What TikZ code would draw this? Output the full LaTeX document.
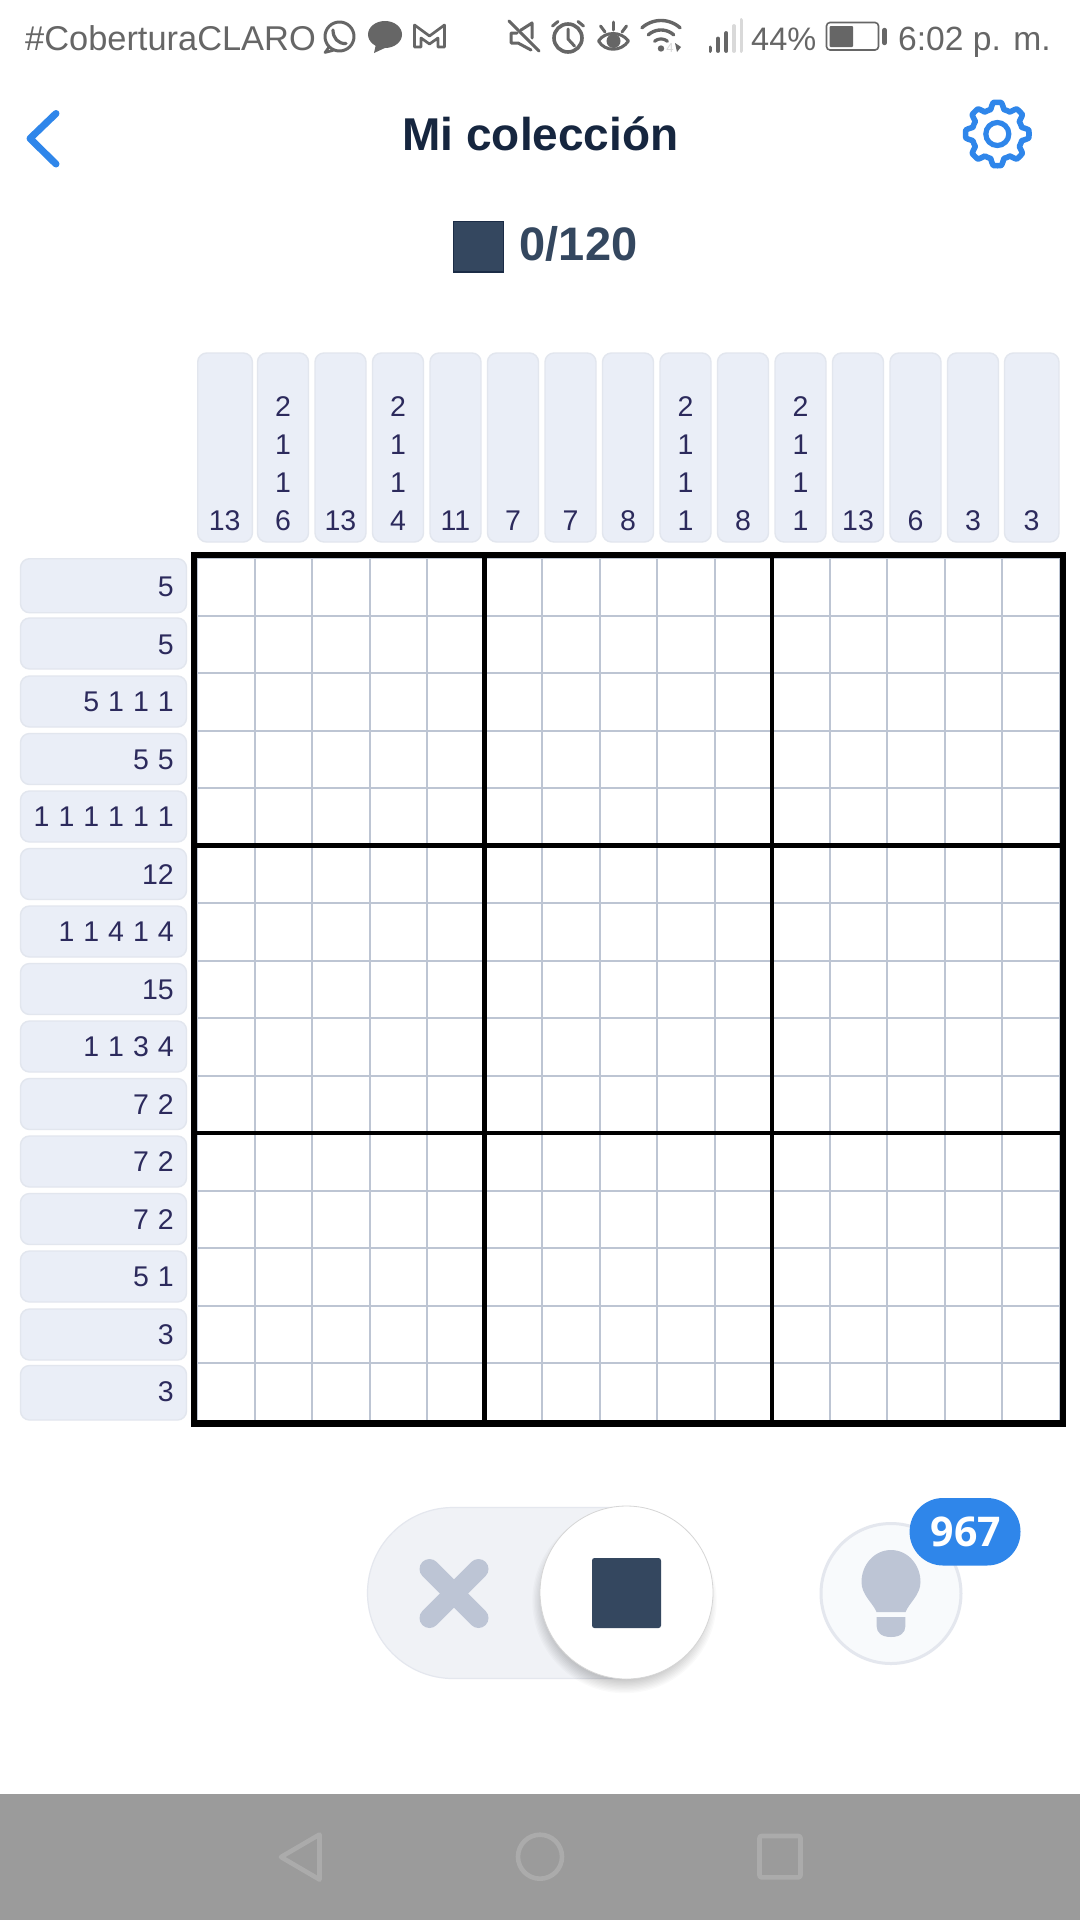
\documentclass[tikz,border=0pt]{standalone}
\usepackage{fontspec}
\setmainfont{Liberation Sans}
\newfontfamily\badgefont{Open Sans}
\newcommand{\fz}[1]{\fontsize{#1}{#1}\selectfont}
\newcommand{\cluefont}{\fz{28.5}\spaceskip=9pt\relax}
\definecolor{cluefill}{HTML}{EAEEF7}
\definecolor{clueedge}{HTML}{E2E6EE}
\definecolor{cluetext}{HTML}{2C2A5C}
\definecolor{gridline}{HTML}{BDC5D3}
\definecolor{navy}{HTML}{34475F}
\definecolor{navyedge}{HTML}{1B2C46}
\definecolor{titletext}{HTML}{16263F}
\definecolor{blueicon}{HTML}{2F86EA}
\definecolor{statusgrey}{HTML}{666666}
\definecolor{lightbar}{HTML}{D9D9D9}
\definecolor{pillfill}{HTML}{F0F2F6}
\definecolor{pilledge}{HTML}{E4E7EE}
\definecolor{iconblue}{HTML}{BDC5D5}
\definecolor{hintfill}{HTML}{F8FAFC}
\definecolor{navbar}{HTML}{9B9B9B}
\definecolor{navicon}{HTML}{ABABAB}
\tikzset{
  cluebox/.style={fill=cluefill,draw=clueedge,line width=1.4pt,rounded corners=9pt},
  cluetxt/.style={inner sep=0pt,text=cluetext,font=\cluefont},
  thingrid/.style={draw=gridline,line width=2pt},
  thickgrid/.style={draw=black,line width=4.4pt},
  statustxt/.style={inner sep=0pt,text=statusgrey,anchor=base west},
  sicon/.style={draw=statusgrey,line width=3pt,line cap=round,line join=round},
  navstroke/.style={draw=navicon,line width=4.6pt,line join=round}
}
\begin{document}
\begin{tikzpicture}[x=1pt,y=-1pt]
\useasboundingbox (0,0) rectangle (1080,1920);
\fill[white] (0,0) rectangle (1080,1920);

% status bar
\node[statustxt,font=\fz{34.4}] (carrier) at (25,50) {\#CoberturaCLARO};
\draw[sicon] (339.5,36.5) circle (14.5);
\draw[sicon,line width=2.6pt] (329,47) -- (325,52.5) -- (333,50.5);
\draw[sicon,line width=3.2pt] (333,30) .. controls (333,38) and (338,44) .. (346,43.5);
\fill[statusgrey] (385,34.5) ellipse (17 and 13.5);
\fill[statusgrey] (376,44) -- (374,53) -- (387,47) -- cycle;
\draw[sicon,line width=2.7pt] (414.5,47) -- (414.5,25) -- (429.5,36) -- (444.5,25) -- (444.5,47) -- (438,47) -- (438,38) -- (429.5,44) -- (421,38) -- (421,47) -- cycle;
\draw[sicon] (509,21) -- (539,51);
\draw[sicon] (517,33) -- (511,33) -- (511,43) -- (518,43) -- (531,50);
\draw[sicon] (521,30) -- (532,23) -- (532,38);
\draw[sicon,line width=3.6pt] (568,38) circle (14);
\draw[sicon] (568,29) -- (568,39) -- (574.5,46);
\draw[sicon] (552.5,26) -- (558,21.5);
\draw[sicon] (578,21.5) -- (583.5,26);
\draw[sicon] (598.5,41) .. controls (605,31) and (621,31) .. (628.5,41) .. controls (621,52) and (605,52) .. (598.5,41) -- cycle;
\fill[statusgrey] (613.5,41) circle (7);
\draw[sicon] (613.5,22) -- (613.5,30);
\draw[sicon] (600.5,26) -- (605,32);
\draw[sicon] (626.5,26) -- (622,32);
\draw[sicon,line width=3.4pt] plot[domain=48:132,samples=24] ({661+28.5*cos(\x)},{49-28.5*sin(\x)});
\draw[sicon,line width=3.4pt] plot[domain=48:132,samples=16] ({661+19*cos(\x)},{49-19*sin(\x)});
\draw[sicon,line width=3.2pt] plot[domain=50:130,samples=12] ({661+10*cos(\x)},{49-10*sin(\x)});
\fill[statusgrey] (661,48.5) circle (3.2);
\node[inner sep=0pt,anchor=base,text=lightbar,font=\fz{13}] (wifi4g) at (670,52) {4};
\fill[statusgrey] (675,43) -- (681,47) -- (677,52) -- cycle;
\foreach \bx/\bt/\bc in {710.4/47.5/statusgrey,718/38.5/statusgrey,726.3/33/statusgrey,734/26/lightbar,741.4/20/lightbar}
  \draw[\bc,line width=3.8pt,line cap=round] (\bx,\bt) -- (\bx,51);
\node[statustxt,font=\fz{32.5}] (battpct) at (751,50) {44\%};
\draw[statusgrey,line width=1.6pt,rounded corners=3.5pt] (826.5,22.5) rectangle (878.5,50);
\fill[statusgrey,rounded corners=1pt] (829.5,26) rectangle (853,47);
\draw[statusgrey,line width=4.4pt,line cap=round] (884.5,30) -- (884.5,43);
\node[statustxt,font=\fz{33.6}] (clock) at (898,50) {6:02 p. m.};

% header
\draw[blueicon,line width=7pt,line cap=round,line join=round] (56,113.5) -- (30,138.5) -- (56,164);
\node[inner sep=0pt,anchor=base,text=titletext,font=\bfseries\fz{46}] (title) at (540.5,150.5) {Mi colección};
\draw[blueicon,line width=5.6pt,line join=round] plot[domain=0:359,samples=240,smooth cycle] ({997.3+(28.5+3.2*max(-1,min(1,1.9*cos(8*\x))))*cos(\x)},{134-(28.5+3.2*max(-1,min(1,1.9*cos(8*\x))))*sin(\x)});
\draw[blueicon,line width=5.2pt] (997.3,134) circle (11.5);
\fill[navy,draw=navyedge,line width=1.2pt] (453.5,221.5) rectangle (503.5,272);
\node[inner sep=0pt,anchor=base west,text=navy,font=\bfseries\fz{47}] (score) at (519.5,260) {0/120};

% column clues
\draw[cluebox] (197.7,353) rectangle (252.4,542);
\foreach \i in {1,...,13}
  \draw[cluebox] (200+57.5*\i,353) rectangle (251+57.5*\i,542);
\draw[cluebox] (1004.5,353) rectangle (1059,542);
\foreach \col [count=\i from 0] in {{13},{6,1,1,2},{13},{4,1,1,2},{11},{7},{7},{8},{1,1,1,2},{8},{1,1,1,2},{13},{6},{3},{3}}
  \foreach \d [count=\r from 0] in \col
    \node[cluetxt,anchor=base] (c\i r\r) at ({225.5+57.5*\i+(\i==14)*1-(\i==0)*0.8},{530-38*\r}) {\d};

% row clues
\foreach \j/\a/\b in {0/558.7/612.7,1/618/669,2/676/727,3/733.5/784.5,4/791/842,5/848.5/899.5,6/906/957,7/963.5/1014.5,8/1021/1072,9/1078.5/1129.5,10/1136/1187,11/1193.5/1244.5,12/1251/1302,13/1309/1360,14/1365.5/1420}
  \draw[cluebox] (20.5,\a) rectangle (186.5,\b);
\foreach \t [count=\j from 0] in {5,5,5 1 1 1,5 5,1 1 1 1 1 1,12,1 1 4 1 4,15,1 1 3 4,7 2,7 2,7 2,5 1,3,3}
  \node[cluetxt,anchor=base east] (row\j) at (174,{596.5+57.5*\j}) {\t};

% grid
\fill[white] (197,558) rectangle (1059.5,1420.5);
\foreach \i in {1,2,3,4,6,7,8,9,11,12,13,14} {
  \draw[thingrid] (197+57.5*\i,558) -- (197+57.5*\i,1420.5);
  \draw[thingrid] (197,558+57.5*\i) -- (1059.5,558+57.5*\i);
}
\draw[gridline,line width=1pt] (197,558) rectangle (1059.5,1420.5);
\foreach \i in {5,10} {
  \draw[thickgrid] (197+57.5*\i,558) -- (197+57.5*\i,1420.5);
  \draw[thickgrid] (197,558+57.5*\i) -- (1059.5,558+57.5*\i);
}
\draw[black,line width=6.4pt] (194,555) rectangle (1062.8,1423.3);

% toggle
\fill[pillfill,draw=pilledge,line width=1.2pt,rounded corners=85.5pt] (367.5,1507.5) rectangle (712,1678.5);
\draw[iconblue,line width=20pt,line cap=round] (429.5,1569) -- (478.5,1618);
\draw[iconblue,line width=20pt,line cap=round] (478.5,1569) -- (429.5,1618);
\foreach \k in {1,...,12}
  \fill[black,opacity=0.02] (624.5,1601) circle ({76+\k*1.35});
\fill[white,draw=black!16,line width=0.8pt] (626.5,1592.5) circle (86.5);
\fill[navy,rounded corners=2.5pt] (592,1558) rectangle (661,1628);

% hint
\fill[hintfill,draw=pilledge,line width=3pt] (891,1593.5) circle (70);
\fill[iconblue] (891,1550) .. controls (908,1550) and (920.5,1565) .. (920.5,1582) .. controls (920.5,1595) and (909,1603) .. (905.5,1612) -- (876.5,1612) .. controls (873,1603) and (861.5,1595) .. (861.5,1582) .. controls (861.5,1565) and (874,1550) .. (891,1550) -- cycle;
\fill[iconblue] (876.6,1617) -- (905.4,1617) -- (905.4,1626) .. controls (905.4,1633) and (900,1637) .. (891,1637) .. controls (882,1637) and (876.6,1633) .. (876.6,1626) -- cycle;
\fill[blueicon,rounded corners=33.5pt] (909.6,1498) rectangle (1020.5,1565.5);
\node[inner sep=0pt,anchor=base,text=white,font=\badgefont\bfseries\fz{41}] (hints) at (966,1546) {967};

% nav bar
\fill[navbar] (0,1794) rectangle (1080,1920);
\draw[navstroke] (281,1857) -- (319.5,1834.5) -- (319.5,1879.5) -- cycle;
\draw[navstroke] (540,1856.7) circle (22);
\draw[navstroke,rounded corners=2pt] (759.5,1836) rectangle (800.5,1877.3);
\end{tikzpicture}
\end{document}
